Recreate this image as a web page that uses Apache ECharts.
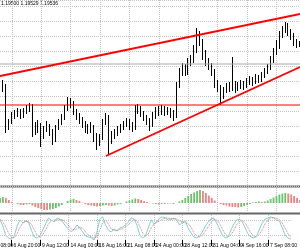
<!DOCTYPE html>
<html><head><meta charset="utf-8">
<script src="https://cdn.jsdelivr.net/npm/echarts@6/dist/echarts.min.js"></script>
<style>html,body{margin:0;padding:0;background:#fff}#c{width:300px;height:250px}</style>
</head><body><div id="c"></div>
<script>
// EURUSD H4, prices in points (1e-4)
var openP = [11862,11866,11870,11786,11798,11810,11814,11818,11812,11818,
  11826,11830,11786,11782,11790,11770,11782,11790,11778,11762,
  11786,11798,11806,11826,11838,11834,11818,11810,11802,11794,
  11786,11782,11788,11770,11758,11766,11798,11808,11762,11770,
  11776,11782,11786,11792,11798,11790,11786,11822,11826,11814,
  11806,11800,11792,11810,11822,11818,11826,11818,11822,11814,
  11810,11872,11898,11906,11898,11918,11922,11942,11972,11958,
  11932,11918,11910,11898,11874,11866,11850,11862,11870,11866,
  11874,11866,11870,11874,11870,11878,11882,11878,11886,11882,
  11890,11898,11906,11922,11938,11950,11972,11982,11992,11978,
  11970,11958,11952];
var closeP = [11866,11870,11786,11798,11810,11814,11818,11812,11818,11826,
  11830,11786,11782,11790,11770,11782,11790,11778,11762,11786,
  11798,11806,11826,11838,11834,11818,11810,11802,11794,11786,
  11782,11788,11770,11758,11766,11798,11808,11762,11770,11776,
  11782,11786,11792,11798,11790,11786,11822,11826,11814,11806,
  11800,11792,11810,11822,11818,11826,11818,11822,11814,11810,
  11872,11898,11906,11898,11918,11922,11942,11972,11958,11932,
  11918,11910,11898,11874,11866,11850,11862,11870,11866,11874,
  11866,11870,11874,11870,11878,11882,11878,11886,11882,11890,
  11898,11906,11922,11938,11950,11972,11982,11992,11978,11970,
  11958,11952,11954];
var lowP = [11856,11858,11776,11782,11794,11804,11808,11804,11806,11814,
  11818,11768,11772,11776,11748,11764,11778,11770,11752,11758,
  11782,11792,11802,11820,11826,11812,11802,11794,11786,11776,
  11774,11776,11758,11742,11750,11762,11792,11732,11754,11764,
  11770,11776,11782,11788,11782,11778,11782,11814,11808,11800,
  11792,11780,11788,11804,11810,11812,11810,11812,11806,11800,
  11806,11866,11890,11890,11892,11910,11916,11936,11950,11922,
  11910,11902,11890,11866,11858,11832,11844,11856,11858,11860,
  11856,11860,11864,11862,11866,11872,11870,11874,11876,11878,
  11886,11894,11902,11916,11932,11944,11966,11976,11970,11962,
  11950,11946,11948];
var highP = [11878,11882,11874,11804,11818,11822,11826,11824,11826,11832,
  11836,11834,11798,11802,11796,11790,11800,11794,11784,11792,
  11804,11814,11832,11848,11846,11840,11824,11816,11808,11800,
  11794,11798,11792,11776,11774,11804,11816,11812,11780,11784,
  11790,11794,11800,11806,11804,11798,11832,11834,11830,11820,
  11812,11806,11818,11828,11830,11832,11830,11828,11826,11822,
  11878,11906,11916,11914,11926,11932,11952,11986,11980,11964,
  11942,11926,11916,11904,11882,11872,11868,11876,11878,11928,
  11880,11878,11882,11880,11886,11890,11888,11894,11892,11898,
  11906,11914,11930,11946,11962,11980,11990,11998,11996,11984,
  11976,11964,11960];
var ao = [5,6,5,3,1,0,-1,-2,-2,-1.5,
  -1,-2.5,-4,-5,-6,-7,-7,-6.5,-6,-5,
  -3.5,-2,0,2,3.5,4,3,2,0.5,-1,
  -2,-2.5,-3,-3.5,-3,-2.5,-2,-2.5,-3,-2.5,
  -1.5,-1,0,1.5,2.5,3.5,4.5,4,3,2,
  1,0,-0.5,-1,-1.5,-1,-1,-0.5,-0.5,-1,
  0,1.5,3,5,7,9,10.5,12,13,12,
  10,7.5,5,2.5,0.5,-1,-2,-2.5,-3.5,-4,
  -4,-4.5,-4,-3,-2,-1,0.5,1,1.5,1,
  1.5,2.5,4,5.5,7,8.5,9.5,10,9.5,8.5,
  7,5,3];
var stochK = [80,56,20,8,4,16,56,80,68,76,
  72,40,12,8,16,40,64,88,80,72,
  88,84,72,56,44,32,44,60,48,32,
  16,12,8,0,32,84,92,60,40,32,
  44,36,48,52,60,72,88,84,60,20,
  8,16,48,80,64,72,88,92,88,80,
  84,88,80,60,72,76,48,28,12,8,
  16,32,56,72,84,88,68,44,20,8,
  12,40,64,80,84,72,48,24,12,8,
  16,44,68,84,88,92,88,80,76,48,
  20,8,4];
var stochD = [84,72,52,28,11,9,25,51,68,75,
  72,63,41,20,12,21,40,64,77,80,
  80,81,81,71,57,44,40,45,51,47,
  32,20,12,7,13,39,69,79,64,44,
  39,37,43,45,53,61,73,81,77,55,
  29,15,24,48,64,72,75,84,89,87,
  84,84,84,76,71,69,65,51,29,16,
  12,19,35,53,71,81,80,67,44,24,
  13,20,39,61,76,79,68,48,28,15,
  12,23,43,65,80,88,89,87,81,68,
  48,25,11];
var tickLabels = ['6 Aug 20:00','9 Aug 12:00','14 Aug 00:00','16 Aug 16:00','21 Aug 08:00',
  '24 Aug 00:00','28 Aug 12:00','31 Aug 04:00','4 Sep 16:00','7 Sep 08:00'];
var tickIdx = [4,14,24,34,44,54,64,74,84,94];
var upperLine = [[0,11890],[102,12014]];
var lowerLine = [[36,11730],[102,11908]];
var hLevel = [[0,11832],[102,11832]];
var grayLevel = [[0,11914],[102,11914]];
var quote = '1.19500 1.19529 1.19536';

var cats = [], candles = [];
for (var i = 0; i < closeP.length; i++) {
  cats.push(String(i));
  candles.push([openP[i], closeP[i], lowP[i], highP[i]]);
}
function isTick(idx){ return tickIdx.indexOf(idx) >= 0; }
var vGrid = {show:true, interval:function(idx){return isTick(idx);}, lineStyle:{color:'#c4c4c4', type:'dotted', width:1}};
var F = 'Liberation Sans';

var chart = echarts.init(document.getElementById('c'));
chart.setOption({
  animation:false,
  backgroundColor:'#fff',
  grid:[
    {left:0,right:0,top:0,height:186},
    {left:0,right:0,top:188,height:24},
    {left:0,right:0,top:215,height:25}
  ],
  xAxis:[
    {type:'category',gridIndex:0,data:cats,boundaryGap:false,axisLine:{show:false},axisTick:{show:false},axisLabel:{show:false},splitLine:vGrid},
    {type:'category',gridIndex:1,data:cats,boundaryGap:false,axisLine:{show:false},axisTick:{show:false},axisLabel:{show:false},splitLine:vGrid},
    {type:'category',gridIndex:2,data:cats,boundaryGap:false,axisLine:{show:false},
      axisTick:{show:true,interval:function(idx){return isTick(idx);},length:6,inside:false,lineStyle:{color:'#000',width:1}},
      axisLabel:{show:true,interval:function(idx){return isTick(idx);},margin:3,align:'left',padding:[0,0,0,2],
        hideOverlap:false,fontSize:5,fontFamily:F,color:'#000',
        formatter:function(v,idx){var k=tickIdx.indexOf(idx);return k<0?'':tickLabels[k];}},
      splitLine:vGrid}
  ],
  yAxis:[
    {type:'value',gridIndex:0,min:11670,max:12042,interval:30,axisLabel:{show:false},axisLine:{show:false},axisTick:{show:false},
      splitLine:{show:true,lineStyle:{color:'#c4c4c4',type:'dotted',width:1}}},
    {type:'value',gridIndex:1,min:-9,max:15,axisLabel:{show:false},axisLine:{show:false},axisTick:{show:false},splitLine:{show:false}},
    {type:'value',gridIndex:2,min:0,max:100,axisLabel:{show:false},axisLine:{show:false},axisTick:{show:false},splitLine:{show:false}}
  ],
  series:[
    {type:'line',xAxisIndex:0,yAxisIndex:0,data:grayLevel,symbol:'none',silent:true,lineStyle:{color:'#a8a8a8',width:1}},
    {type:'candlestick',xAxisIndex:0,yAxisIndex:0,data:candles,barWidth:1.2,silent:true,
      itemStyle:{color:'#000',color0:'#000',borderColor:'#000',borderColor0:'#000',borderWidth:1}},
    {type:'line',xAxisIndex:0,yAxisIndex:0,data:hLevel,symbol:'none',silent:true,lineStyle:{color:'#ff0000',width:1.2}},
    {type:'line',xAxisIndex:0,yAxisIndex:0,data:upperLine,symbol:'none',silent:true,lineStyle:{color:'#ff0000',width:1.8}},
    {type:'line',xAxisIndex:0,yAxisIndex:0,data:lowerLine,symbol:'none',silent:true,lineStyle:{color:'#ff0000',width:1.8}},
    {type:'bar',xAxisIndex:1,yAxisIndex:1,data:ao,barWidth:1.8,silent:true,
      itemStyle:{color:function(p){var i=p.dataIndex;return (i===0||ao[i]>ao[i-1])?'#6cc26c':'#f08282';}}},
    {type:'line',xAxisIndex:2,yAxisIndex:2,data:stochK,symbol:'none',silent:true,lineStyle:{color:'#6ccfcf',width:0.9},
      markLine:{silent:true,symbol:'none',label:{show:false},data:[{yAxis:20},{yAxis:80}],lineStyle:{color:'#c4c4c4',type:'dotted',width:1}}},
    {type:'line',xAxisIndex:2,yAxisIndex:2,data:stochD,symbol:'none',silent:true,lineStyle:{color:'#e06060',width:0.9,type:'dotted'}}
  ],
  graphic:[
    {type:'rect',left:0,top:185.5,shape:{width:300,height:2},style:{fill:'#666'},silent:true},
    {type:'rect',left:0,top:212.5,shape:{width:300,height:2},style:{fill:'#666'},silent:true},
    {type:'text',left:1,top:1,style:{text:quote,fontSize:5,fontFamily:F,fill:'#000'},silent:true},
    {type:'text',left:-14,top:243,style:{text:'2 Aug 08:00',fontSize:5,fontFamily:F,fill:'#000'},silent:true}
  ]
});
</script>
</body></html>
